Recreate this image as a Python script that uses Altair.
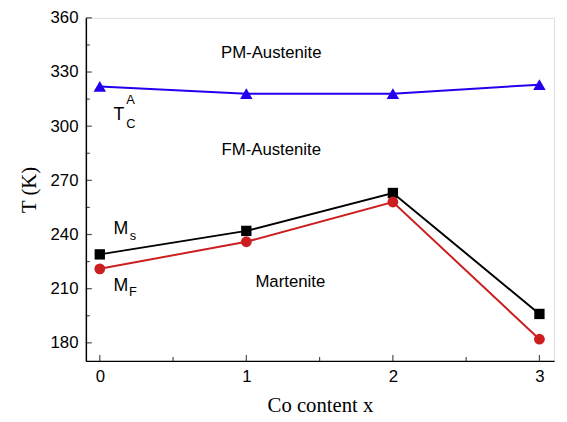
import altair as alt
import pandas as pd

x_vals = [0, 1, 2, 3]
tc_vals = [322, 318, 318, 323]
ms_vals = [229, 242, 263, 196]
mf_vals = [221, 236, 258, 182]

x_major = [0, 1, 2, 3]
x_minor = [0.5, 1.5, 2.5]
y_major = [180, 210, 240, 270, 300, 330, 360]
y_minor = [195, 225, 255, 285, 315, 345]

W, H = 475, 348
xs = alt.Scale(domain=[-0.095, 3.1], nice=False, zero=False)
ys = alt.Scale(domain=[170, 360], nice=False, zero=False)

df = pd.DataFrame({"x": x_vals, "tc": tc_vals, "ms": ms_vals, "mf": mf_vals})

base = alt.Chart(df)

def series(field, color, shape, size):
    line = base.mark_line(color=color, strokeWidth=2).encode(
        x=alt.X("x:Q", scale=xs), y=alt.Y(f"{field}:Q", scale=ys))
    pts = base.mark_point(color=color, filled=True, opacity=1, shape=shape, size=size).encode(
        x=alt.X("x:Q", scale=xs), y=alt.Y(f"{field}:Q", scale=ys))
    return line + pts

axes = base.mark_point(opacity=0).encode(
    x=alt.X("x:Q", scale=xs, title="Co content x",
            axis=alt.Axis(values=x_major, format="d", ticks=False, grid=False,
                          labelFont="Liberation Sans", labelFontSize=17, labelColor="black",
                          labelPadding=8, domainColor="black", domainWidth=1.5,
                          titleFont="Liberation Serif", titleFontSize=21, titleFontWeight="normal",
                          titleColor="black", titlePadding=10)),
    y=alt.Y("tc:Q", scale=ys, title="T (K)",
            axis=alt.Axis(values=y_major, ticks=False, grid=False,
                          labelFont="Liberation Sans", labelFontSize=17, labelColor="black",
                          labelPadding=8, domainColor="black", domainWidth=1.5,
                          titleFont="Liberation Serif", titleFontSize=21, titleFontWeight="normal",
                          titleColor="black", titlePadding=11)),
)

xmaj = alt.Chart(pd.DataFrame({"v": x_major})).mark_tick(
    color="black", orient="vertical", size=6, thickness=1.2).encode(
    x=alt.X("v:Q", scale=xs), y=alt.value(H - 3))
xmin = alt.Chart(pd.DataFrame({"v": x_minor})).mark_tick(
    color="black", orient="vertical", size=4, thickness=1.2).encode(
    x=alt.X("v:Q", scale=xs), y=alt.value(H - 2))
ymaj = alt.Chart(pd.DataFrame({"v": y_major})).mark_tick(
    color="black", orient="horizontal", size=6, thickness=1.2).encode(
    y=alt.Y("v:Q", scale=ys), x=alt.value(3))
ymin = alt.Chart(pd.DataFrame({"v": y_minor})).mark_tick(
    color="black", orient="horizontal", size=4, thickness=1.2).encode(
    y=alt.Y("v:Q", scale=ys), x=alt.value(2))

labels = pd.DataFrame({
    "t": ["PM-Austenite", "FM-Austenite", "Martenite"],
    "x": [1.17, 1.17, 1.30],
    "y": [340.4, 286.6, 213.8],
})
region_text = alt.Chart(labels).mark_text(
    font="Liberation Sans", fontSize=17, color="black", baseline="middle", align="center").encode(
    x=alt.X("x:Q", scale=xs), y=alt.Y("y:Q", scale=ys), text="t:N")

big = pd.DataFrame({"t": ["T", "M", "M"], "x": [0.094, 0.094, 0.094], "y": [303.5, 240.4, 208.9]})
big_text = alt.Chart(big).mark_text(
    font="Liberation Sans", fontSize=18, color="black", baseline="alphabetic", align="left").encode(
    x=alt.X("x:Q", scale=xs), y=alt.Y("y:Q", scale=ys), text="t:N")

small = pd.DataFrame({"t": ["A", "C", "s", "F"], "x": [0.18, 0.18, 0.205, 0.2],
                      "y": [312.2, 299.1, 237.2, 206.2]})
small_text = alt.Chart(small).mark_text(
    font="Liberation Sans", fontSize=13, color="black", baseline="alphabetic", align="left").encode(
    x=alt.X("x:Q", scale=xs), y=alt.Y("y:Q", scale=ys), text="t:N")

chart = alt.layer(
    axes, xmaj, xmin, ymaj, ymin,
    series("tc", "#2200ee", "triangle-up", 160),
    series("ms", "black", "square", 110),
    series("mf", "#cc1e1e", "circle", 120),
    region_text, big_text, small_text,
).properties(
    width=W, height=H,
    autosize=alt.AutoSizeParams(type="none"),
    padding={"left": 79, "top": 7, "right": 5, "bottom": 60},
).configure_view(stroke="black", strokeWidth=1.5).configure(background="white")

chart.save("out.html", embed_options={"renderer": "svg", "actions": False})
